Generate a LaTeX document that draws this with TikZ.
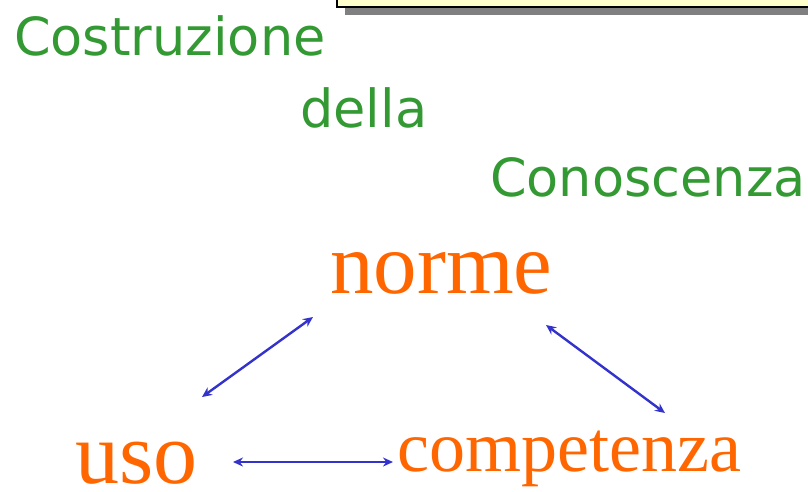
\documentclass[tikz,border=0pt]{standalone}
\usepackage{fontspec}
\setmainfont{Liberation Serif}
\newfontfamily\titlefont{DejaVu Sans}
\usetikzlibrary{arrows.meta}
\definecolor{titlegreen}{RGB}{51,153,51}
\definecolor{wordorange}{RGB}{255,102,0}
\definecolor{arrowblue}{RGB}{51,51,204}
\definecolor{boxyellow}{RGB}{255,255,204}
\definecolor{shadowgray}{RGB}{128,128,128}
\tikzset{
  titleword/.style={inner sep=0pt, anchor=base west, text=titlegreen, font=\titlefont\fontsize{52.5}{63}\selectfont},
  bigword/.style={inner sep=0pt, anchor=base west, text=wordorange},
  link/.style={draw=arrowblue, line width=2.4pt, {Stealth[length=10pt,width=9pt]}-{Stealth[length=10pt,width=9pt]}}
}
\begin{document}
\begin{tikzpicture}[x=1pt,y=-1pt]
\useasboundingbox (0,0) rectangle (808,491);
% top box with shadow
\fill[shadowgray] (345,8) rectangle (820,15);
\draw[fill=boxyellow, line width=1.2pt] (337,-10) rectangle (820,7);
% title
\node[titleword] (t1) at (14,55) {Costruzione};
\node[titleword] (t2) at (300,127) {della};
\node[titleword] (t3) at (490,196) {Conoscenza};
% words
\node[bigword, font=\fontsize{87}{100}\selectfont] (norme) at (330,293) {norme};
\node[bigword, font=\fontsize{88}{100}\selectfont] (uso) at (75,483) {uso};
\node[bigword, font=\fontsize{72}{86}\selectfont] (comp) at (397,471) {competenza};
% arrow ends
\coordinate (a1) at (202,397);
\coordinate (a2) at (313,317);
\coordinate (b1) at (546,325);
\coordinate (b2) at (665,413);
\coordinate (c1) at (233,462);
\coordinate (c2) at (393,462);
\draw[link] (a1) -- (a2);
\draw[link] (b1) -- (b2);
\draw[link] (c1) -- (c2);
\end{tikzpicture}
\end{document}
